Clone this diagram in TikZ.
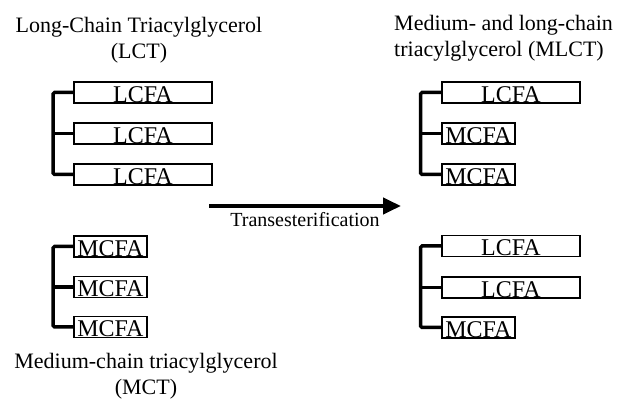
\documentclass[tikz,border=0pt]{standalone}
\usepackage{fontspec}
\setmainfont{Liberation Serif}
\usetikzlibrary{arrows.meta}
\tikzset{
  fa/.style={draw, line width=1.8pt, inner sep=0pt, minimum height=21pt,
    text height=20.3pt, text depth=0.7pt, anchor=west,
    font=\fontsize{24}{26}\selectfont},
  lcfa/.style={fa, minimum width=138pt},
  mcfa/.style={fa, minimum width=73pt},
  bracket/.style={line width=3.5pt, rounded corners=1.5pt},
  title/.style={inner sep=0pt, font=\fontsize{22}{26}\selectfont},
  bigarrow/.style={line width=4pt, -{Triangle[length=18pt,width=16pt]}},
}
\begin{document}
\begin{tikzpicture}[x=1pt,y=-1pt]
\useasboundingbox (0,0) rectangle (622,403);
% top-left LCT
\node[title, align=center, anchor=north] (tLCT) at (139,17) {Long-Chain Triacylglycerol\\(LCT)};
\node[lcfa] (a1) at (73,92.5) {LCFA};
\node[lcfa] (a2) at (73,133.5) {LCFA};
\node[lcfa] (a3) at (73,174.5) {LCFA};
\draw[bracket] (a1.west) -- ++(-20,0) |- (a3.west);
\draw[bracket] (a2.west) -- ++(-20,0);
% bottom-left MCT
\node[mcfa] (b1) at (73,246.5) {MCFA};
\node[mcfa] (b2) at (73,287) {MCFA};
\node[mcfa] (b3) at (73,327) {MCFA};
\draw[bracket] (b1.west) -- ++(-20,0) |- (b3.west);
\draw[bracket] (b2.west) -- ++(-20,0);
\node[title, align=center, anchor=north] (tMCT) at (146,353) {Medium-chain triacylglycerol\\(MCT)};
% top-right MLCT
\node[title, align=left, anchor=north west] (tMLCT) at (394,15) {Medium- and long-chain\\triacylglycerol (MLCT)};
\node[lcfa] (c1) at (441,92.5) {LCFA};
\node[mcfa] (c2) at (441,133.5) {MCFA};
\node[mcfa] (c3) at (441,174.5) {MCFA};
\draw[bracket] (c1.west) -- ++(-20.5,0) |- (c3.west);
\draw[bracket] (c2.west) -- ++(-20.5,0);
% bottom-right MLCT
\node[lcfa] (d1) at (441,246) {LCFA};
\node[lcfa] (d2) at (441,287.5) {LCFA};
\node[mcfa] (d3) at (441,327.5) {MCFA};
\draw[bracket] (d1.west) -- ++(-20.5,0) |- (d3.west);
\draw[bracket] (d2.west) -- ++(-20.5,0);
% arrow
\coordinate (arS) at (209,206);
\coordinate (arE) at (401,206);
\draw[bigarrow] (arS) -- (arE);
\node[inner sep=0pt, anchor=base, font=\fontsize{20}{24}\selectfont] (lab) at (305,227) {Transesterification};
\end{tikzpicture}
\end{document}
